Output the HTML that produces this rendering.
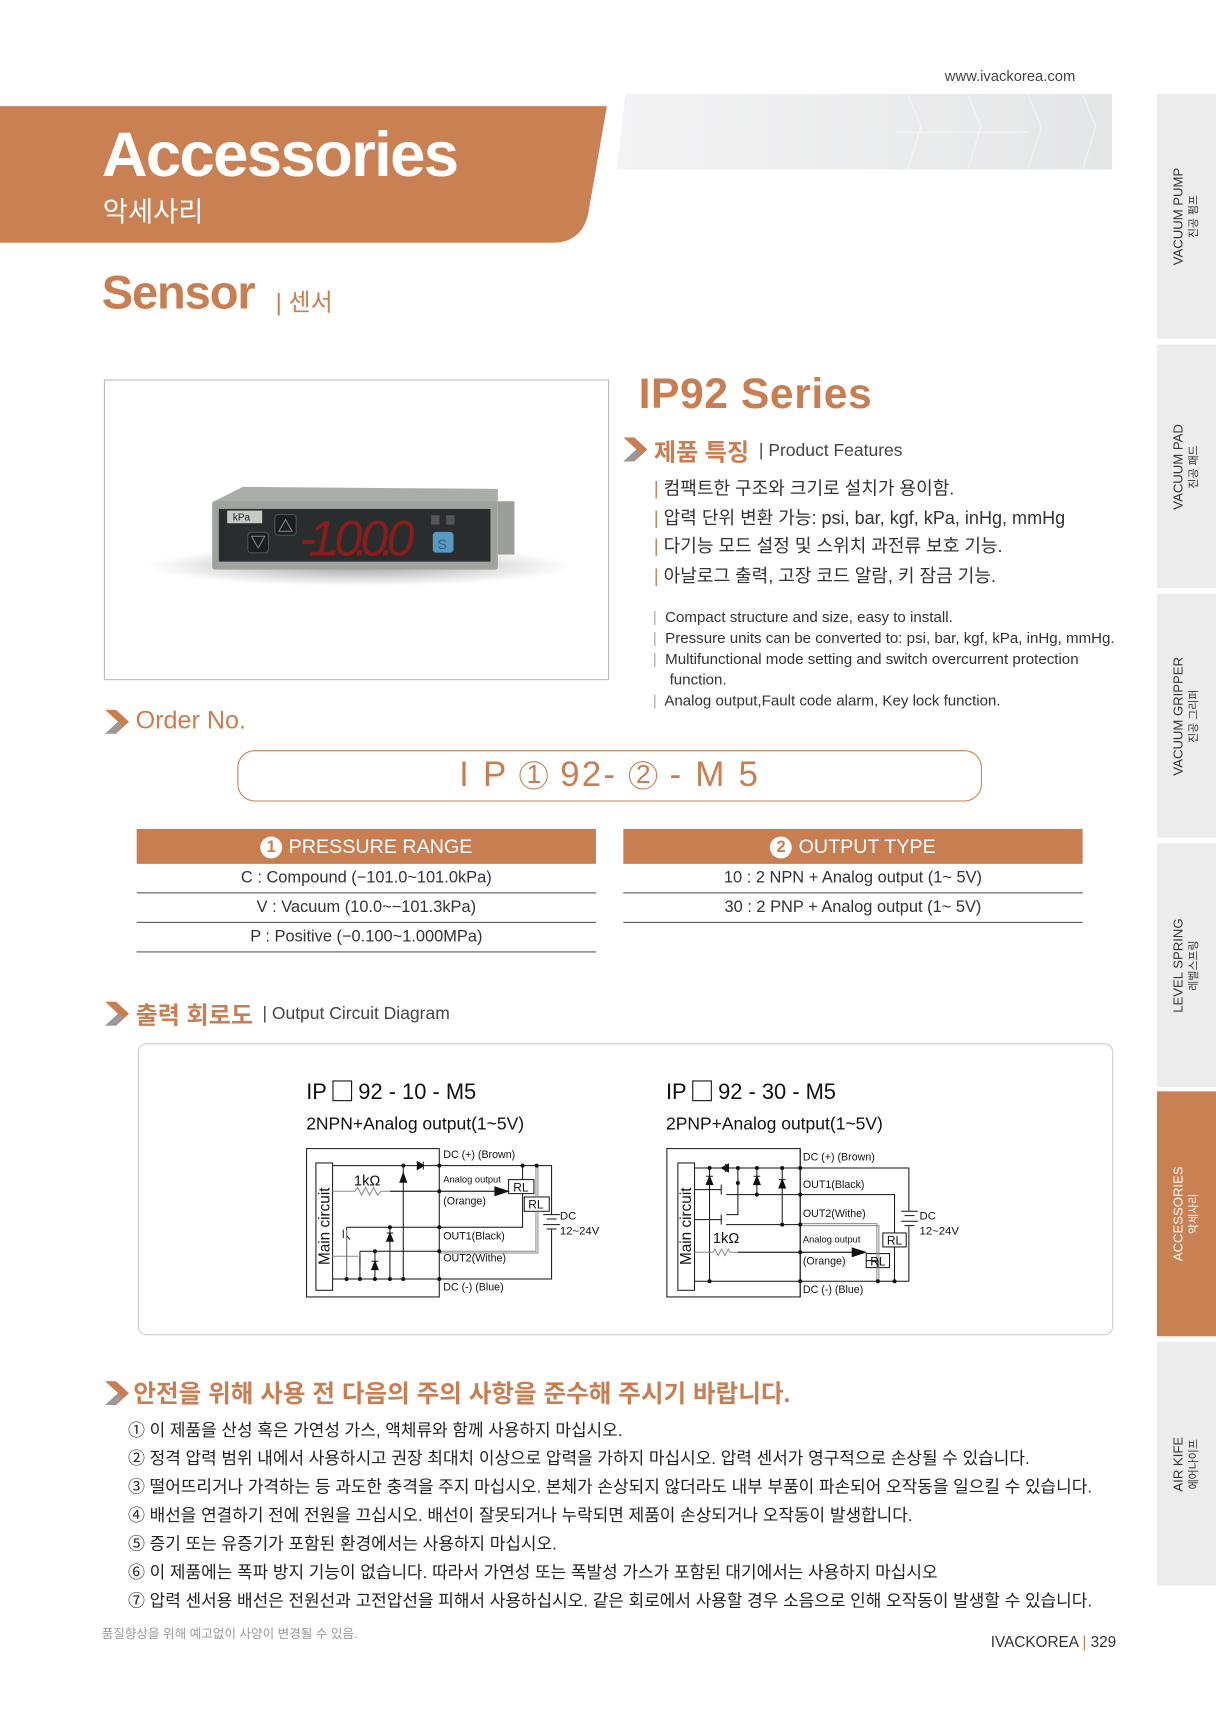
<!DOCTYPE html>
<html><head><meta charset="utf-8"><style>
html,body{margin:0;padding:0;background:#fff;width:1216px;height:1714px;overflow:hidden}
#c{position:absolute;left:0;top:0;width:1112px;height:1568px;transform:scale(1.09353);transform-origin:0 0;font-family:"Liberation Sans","Noto Sans CJK KR",sans-serif;color:#333}
.a{position:absolute;white-space:nowrap}
.tab{position:absolute;left:1058px;width:54px;background:#ececec}
.tab div{position:absolute;left:27px;top:50%;transform:translate(-50%,-50%) rotate(-90deg);text-align:center;font-size:12px;line-height:13px;color:#333;white-space:nowrap}
.tab span{font-size:10px}
.or{color:#c97e52}
.tb{position:absolute;width:420px}
.tb .h{background:#c97e52;color:#fff;height:32px;font-size:18px;text-align:center;line-height:32px}
.tb .r{height:26px;border-bottom:1px solid #555;font-size:15px;text-align:center;line-height:26px;color:#333}
.num{display:inline-block;width:20px;height:20px;border-radius:50%;background:#fff;color:#c97e52;font-size:15px;line-height:20px;text-align:center;margin-right:6px;vertical-align:1px;font-weight:bold}
.w{position:absolute;left:117px;font-size:15.5px;color:#222;white-space:nowrap}
</style></head><body><div id="c">
<div class="a" style="left:864px;top:62px;font-size:13.5px;color:#444">www.ivackorea.com</div>
<svg class="a" style="left:0;top:80px" width="1030" height="150">
<defs><linearGradient id="g" x1="0" x2="1"><stop offset="0" stop-color="#f3f3f4"/><stop offset="1" stop-color="#e4e5e6"/></linearGradient></defs>
<path d="M572,6 L1017,6 L1017,75 L564,75 Z" fill="url(#g)"/>
<path d="M830,6 l12,30 l-12,39 M885,6 l12,30 l-12,39 M940,6 l12,30 l-12,39 M990,6 l12,30 l-12,39 M820,41 h120" stroke="#f6f6f6" stroke-width="1.5" fill="none" opacity=".6"/>
<path d="M0,17 L555,17 L538,115 Q532,142 505,142 L0,142 Z" fill="#c98052"/>
</svg>
<div class="a" style="left:93px;top:108px;font-size:58px;font-weight:bold;color:#fff;letter-spacing:-1.5px">Accessories</div>
<div class="a" style="left:94px;top:174px;font-size:25px;color:#fff">악세사리</div>
<div class="a or" style="left:93px;top:244px;font-size:43px;font-weight:bold;letter-spacing:-1px">Sensor</div>
<div class="a or" style="left:252px;top:259px;font-size:22px">| 센서</div>

<div class="tab" style="top:86px;height:224px"><div>VACUUM PUMP<br><span>진공 펌프</span></div></div>
<div class="tab" style="top:315px;height:223px"><div>VACUUM PAD<br><span>진공 패드</span></div></div>
<div class="tab" style="top:543px;height:223px"><div>VACUUM GRIPPER<br><span>진공 그리퍼</span></div></div>
<div class="tab" style="top:771px;height:223px"><div>LEVEL SPRING<br><span>레벨스프링</span></div></div>
<div class="tab" style="top:998px;height:224px;background:#c98052"><div style="color:#fff">ACCESSORIES<br><span>악세사리</span></div></div>
<div class="tab" style="top:1227px;height:223px"><div>AIR KIFE<br><span>에어나이프</span></div></div>

<div class="a" style="left:95px;top:347px;width:460px;height:273px;border:1px solid #bbb"></div>
<svg class="a" style="left:91.4px;top:338.4px" width="475.5" height="292.6" viewBox="0 0 1560 960">
<defs><radialGradient id="sh"><stop offset="0" stop-color="#000" stop-opacity=".35"/><stop offset="1" stop-color="#000" stop-opacity="0"/></radialGradient></defs>
<ellipse cx="780" cy="590" rx="640" ry="60" fill="url(#sh)"/>
<path d="M338,398 L430,352 L1195,358 L1195,410 Z" fill="#a8ada8"/>
<rect x="1195" y="395" width="50" height="160" fill="#9a9e9a"/>
<rect x="338" y="395" width="857" height="205" rx="8" fill="#9ea39e"/>
<rect x="358" y="418" width="815" height="158" fill="#2a2d2e"/>
<rect x="383" y="423" width="105" height="38" fill="#c8cac8"/>
<text x="400" y="452" font-size="30" fill="#222" font-family="Liberation Sans">kPa</text>
<rect x="526" y="435" width="64" height="62" rx="10" fill="#1c1d1e" stroke="#555" stroke-width="3"/>
<rect x="445" y="488" width="62" height="62" rx="10" fill="#1c1d1e" stroke="#555" stroke-width="3"/>
<path d="M558,450 l20,35 h-40 z M476,535 l20,-35 h-40 z" fill="none" stroke="#888" stroke-width="3"/>
<text x="600" y="558" font-size="150" fill="#8b1c1c" font-family="Liberation Sans" font-style="italic" textLength="345">-1.0.0.0</text>
<rect x="995" y="437" width="25" height="28" fill="#555"/><rect x="1040" y="437" width="25" height="28" fill="#555"/>
<rect x="1000" y="487" width="62" height="62" rx="10" fill="#5a9ac0"/>
<text x="1014" y="538" font-size="42" fill="#2d5f80" font-family="Liberation Sans">S</text>
</svg>

<div class="a or" style="left:584px;top:339px;font-size:39px;font-weight:bold;letter-spacing:0.5px">IP92 Series</div>
<svg class="a" style="left:570px;top:400px" width="26" height="22"><path d="M0,0 H10 L22,11 L10,22 H0 L12,11 Z" fill="#c97e52"/><path d="M0,22 L12,11 L16,14 L10,22Z" fill="#999"/></svg>
<div class="a or" style="left:598px;top:396px;font-size:22px;font-weight:bold">제품 특징</div>
<div class="a" style="left:694px;top:404px;font-size:16px;color:#444">| Product Features</div>
<div class="a" style="left:598px;top:434px;font-size:16.5px;line-height:26.5px;color:#333"><span class="or">|</span> 컴팩트한 구조와 크기로 설치가 용이함.<br><span class="or">|</span> 압력 단위 변환 가능: psi, bar, kgf, kPa, inHg, mmHg<br><span class="or">|</span> 다기능 모드 설정 및 스위치 과전류 보호 기능.<br><span class="or">|</span> 아날로그 출력, 고장 코드 알람, 키 잠금 기능.</div>
<div class="a" style="left:597px;top:555px;font-size:13.8px;line-height:19px;color:#333"><span style="color:#aaa">|</span>&nbsp; Compact structure and size, easy to install.<br><span style="color:#aaa">|</span>&nbsp; Pressure units can be converted to: psi, bar, kgf, kPa, inHg, mmHg.<br><span style="color:#aaa">|</span>&nbsp; Multifunctional mode setting and switch overcurrent protection<br>&nbsp;&nbsp;&nbsp; function.<br><span style="color:#aaa">|</span>&nbsp; Analog output,Fault code alarm, Key lock function.</div>

<svg class="a" style="left:96px;top:649px" width="26" height="22"><path d="M0,0 H10 L22,11 L10,22 H0 L12,11 Z" fill="#c97e52"/><path d="M0,22 L12,11 L16,14 L10,22Z" fill="#999"/></svg>
<div class="a or" style="left:124px;top:645px;font-size:23px">Order No.</div>
<div class="a" style="left:217px;top:686px;width:679px;height:45px;border:1.5px solid #c97e52;border-radius:16px"></div>
<div class="a or" style="left:217px;top:686px;width:681px;text-align:center;font-size:32px;line-height:45px;letter-spacing:2px">I P <span style="font-size:24px;display:inline-block;width:24px;height:24px;line-height:24px;border:1.5px solid #c97e52;border-radius:50%;vertical-align:3px;letter-spacing:0">1</span> 92- <span style="font-size:24px;display:inline-block;width:24px;height:24px;line-height:24px;border:1.5px solid #c97e52;border-radius:50%;vertical-align:3px;letter-spacing:0">2</span> - M 5</div>

<div class="tb" style="left:125px;top:758px">
<div class="h"><span class="num">1</span>PRESSURE RANGE</div>
<div class="r">C : Compound (−101.0~101.0kPa)</div>
<div class="r">V : Vacuum (10.0~−101.3kPa)</div>
<div class="r">P : Positive (−0.100~1.000MPa)</div>
</div>
<div class="tb" style="left:570px;top:758px">
<div class="h"><span class="num">2</span>OUTPUT TYPE</div>
<div class="r">10 : 2 NPN + Analog output (1~ 5V)</div>
<div class="r">30 : 2 PNP + Analog output (1~ 5V)</div>
</div>

<svg class="a" style="left:96px;top:916px" width="26" height="22"><path d="M0,0 H10 L22,11 L10,22 H0 L12,11 Z" fill="#c97e52"/><path d="M0,22 L12,11 L16,14 L10,22Z" fill="#999"/></svg>
<div class="a or" style="left:124px;top:911px;font-size:22px;font-weight:bold">출력 회로도</div>
<div class="a" style="left:240px;top:919px;font-size:16px;color:#444">| Output Circuit Diagram</div>
<div class="a" style="left:126px;top:954px;width:890px;height:265px;border:1px solid #ccc;border-radius:8px"></div>

<div class="a" style="left:280px;top:988px;font-size:20px;color:#111">IP <span style="display:inline-block;width:16px;height:17px;border:1px solid #111;vertical-align:-2px"></span> 92 - 10 - M5</div>
<div class="a" style="left:280px;top:1020px;font-size:16px;color:#111">2NPN+Analog output(1~5V)</div>
<div class="a" style="left:609px;top:988px;font-size:20px;color:#111">IP <span style="display:inline-block;width:16px;height:17px;border:1px solid #111;vertical-align:-2px"></span> 92 - 30 - M5</div>
<div class="a" style="left:609px;top:1020px;font-size:16px;color:#111">2PNP+Analog output(1~5V)</div>

<svg class="a" style="left:256.1px;top:1033.4px" width="310.9" height="182.9" viewBox="0 0 1020 600" font-family="Liberation Sans" fill="none" stroke="#111" stroke-width="3">
<rect x="80" y="57" width="398" height="445"/>
<rect x="108" y="100" width="50" height="382"/>
<text transform="translate(148,290) rotate(-90)" text-anchor="middle" font-size="46" fill="#111" stroke="none">Main circuit</text>
<path d="M158,108 H815 V255 M815,300 V448 H158"/>
<path d="M790,255 h50 M800,268 h30 M790,285 h50 M800,298 h30"/>
<path d="M158,185 H225 l8,-12 l12,24 l12,-24 l12,24 l12,-24 l12,24 l10,-12 H660" stroke="#888"/>
<path d="M330,185 H660"/>
<path d="M645,172 l40,13 l-40,13z" fill="#111"/>
<rect x="686" y="150" width="76" height="42"/><rect x="733" y="202" width="75" height="43"/>
<path d="M728,108 V150 M728,192 V293 H200"/>
<path d="M768,108 V202 M768,245 V365 H478 M774,108 V202 M774,245 V370 H478" stroke="#888" stroke-width="3"/>
<path d="M235,380 H158" stroke="#888"/>
<path d="M200,293 V448 M240,365 V448 M240,365 H478 M285,365 V448 M330,293 V448 M370,108 V448" />
<path d="M190,300 V325 M200,318 l10,12 M240,380 v30"/>
<path d="M200,300 V448" stroke="#888"/>
<path d="M430,96 v24 M432,108 l-20,-12 v24 z" fill="#111"/>
<path d="M360,158 h20 M370,130 l-10,28 h20z" fill="#111"/>
<path d="M320,310 h20 M330,310 l-10,25 h20z" fill="#111"/>
<path d="M275,395 h20 M285,395 l-10,25 h20z" fill="#111"/>
<g fill="#111" stroke="none"><circle cx="370" cy="108" r="6"/><circle cx="478" cy="108" r="6"/><circle cx="728" cy="108" r="6"/><circle cx="770" cy="108" r="6"/><circle cx="478" cy="185" r="6"/><circle cx="478" cy="293" r="6"/><circle cx="330" cy="293" r="6"/><circle cx="478" cy="365" r="6"/><circle cx="285" cy="365" r="6"/><circle cx="200" cy="448" r="6"/><circle cx="240" cy="448" r="6"/><circle cx="285" cy="448" r="6"/><circle cx="330" cy="448" r="6"/><circle cx="370" cy="448" r="6"/><circle cx="478" cy="448" r="6"/></g>
<g fill="#111" stroke="none" font-size="32"><text x="490" y="85">DC (+) (Brown)</text><text x="490" y="158" font-size="28">Analog output</text><text x="490" y="225">(Orange)</text><text x="490" y="330">OUT1(Black)</text><text x="490" y="395">OUT2(Withe)</text><text x="490" y="482">DC (-) (Blue)</text><text x="222" y="168" font-size="44">1kΩ</text><text x="700" y="185" font-size="36">RL</text><text x="745" y="237" font-size="36">RL</text><text x="840" y="270" font-size="34">DC</text><text x="840" y="315" font-size="34">12~24V</text></g>
</svg>

<svg class="a" style="left:594.4px;top:1033.4px" width="310.9" height="182.9" viewBox="0 0 1020 600" font-family="Liberation Sans" fill="none" stroke="#111" stroke-width="3">
<rect x="52" y="57" width="400" height="445"/>
<rect x="85" y="100" width="50" height="382"/>
<text transform="translate(125,290) rotate(-90)" text-anchor="middle" font-size="46" fill="#111" stroke="none">Main circuit</text>
<path d="M135,115 H778 V245 M778,290 V455 H135"/>
<path d="M755,245 h50 M765,258 h30 M755,275 h50 M765,288 h30"/>
<path d="M135,180 H215 M135,270 H215 M230,195 H735 V310 M735,352 V455 M230,285 H452"/>
<path d="M215,165 V195 M215,255 V285 M265,115 V255 H230 M180,115 V455 M322,115 V195 M398,115 V285 M452,57 V502"/>
<rect x="700" y="310" width="70" height="42"/><rect x="650" y="372" width="70" height="42"/>
<path d="M135,368 H190 l6,-10 l10,20 l10,-20 l10,20 l10,-20 l6,10 H610" stroke="#888"/>
<path d="M265,368 H610"/>
<path d="M608,355 l40,13 l-40,13z" fill="#111"/>
<path d="M648,393 H685 V414" />
<path d="M452,282 H682 V455 M452,288 H688 V455" stroke="#888"/>
<path d="M228,103 v24 M215,115 l22,-12 v24z" fill="#111"/>
<path d="M170,140 h20 M180,140 l-10,25 h20z" fill="#111"/>
<path d="M312,140 h20 M322,140 l-10,25 h20z" fill="#111"/>
<path d="M388,150 h20 M398,150 l-10,25 h20z" fill="#111"/>
<g fill="#111" stroke="none"><circle cx="180" cy="115" r="6"/><circle cx="265" cy="115" r="6"/><circle cx="322" cy="115" r="6"/><circle cx="398" cy="115" r="6"/><circle cx="452" cy="115" r="6"/><circle cx="265" cy="160" r="6"/><circle cx="322" cy="195" r="6"/><circle cx="452" cy="195" r="6"/><circle cx="398" cy="285" r="6"/><circle cx="452" cy="285" r="6"/><circle cx="452" cy="368" r="6"/><circle cx="180" cy="455" r="6"/><circle cx="452" cy="455" r="6"/><circle cx="685" cy="455" r="6"/><circle cx="735" cy="455" r="6"/></g>
<g fill="#111" stroke="none" font-size="32"><text x="460" y="92">DC (+) (Brown)</text><text x="460" y="175">OUT1(Black)</text><text x="460" y="262">OUT2(Withe)</text><text x="460" y="338" font-size="28">Analog output</text><text x="460" y="405">(Orange)</text><text x="460" y="490">DC (-) (Blue)</text><text x="190" y="340" font-size="44">1kΩ</text><text x="712" y="345" font-size="36">RL</text><text x="662" y="407" font-size="36">RL</text><text x="810" y="270" font-size="34">DC</text><text x="810" y="315" font-size="34">12~24V</text></g>
</svg>

<svg class="a" style="left:96px;top:1263px" width="26" height="22"><path d="M0,0 H10 L22,11 L10,22 H0 L12,11 Z" fill="#c97e52"/><path d="M0,22 L12,11 L16,14 L10,22Z" fill="#999"/></svg>
<div class="a or" style="left:122px;top:1257px;font-size:22.5px;font-weight:bold">안전을 위해 사용 전 다음의 주의 사항을 준수해 주시기 바랍니다.</div>
<div class="w" style="top:1296px">① 이 제품을 산성 혹은 가연성 가스, 액체류와 함께 사용하지 마십시오.</div>
<div class="w" style="top:1322px">② 정격 압력 범위 내에서 사용하시고 권장 최대치 이상으로 압력을 가하지 마십시오. 압력 센서가 영구적으로 손상될 수 있습니다.</div>
<div class="w" style="top:1348px">③ 떨어뜨리거나 가격하는 등 과도한 충격을 주지 마십시오. 본체가 손상되지 않더라도 내부 부품이 파손되어 오작동을 일으킬 수 있습니다.</div>
<div class="w" style="top:1374px">④ 배선을 연결하기 전에 전원을 끄십시오. 배선이 잘못되거나 누락되면 제품이 손상되거나 오작동이 발생합니다.</div>
<div class="w" style="top:1400px">⑤ 증기 또는 유증기가 포함된 환경에서는 사용하지 마십시오.</div>
<div class="w" style="top:1426px">⑥ 이 제품에는 폭파 방지 기능이 없습니다. 따라서 가연성 또는 폭발성 가스가 포함된 대기에서는 사용하지 마십시오</div>
<div class="w" style="top:1452px">⑦ 압력 센서용 배선은 전원선과 고전압선을 피해서 사용하십시오. 같은 회로에서 사용할 경우 소음으로 인해 오작동이 발생할 수 있습니다.</div>
<div class="a" style="left:93px;top:1486px;font-size:11.5px;color:#999">품질향상을 위해 예고없이 사양이 변경될 수 있음.</div>
<div class="a" style="left:906px;top:1493px;font-size:14px;color:#333">IVACKOREA <span style="color:#c97e52">|</span> 329</div>
</div></body></html>
